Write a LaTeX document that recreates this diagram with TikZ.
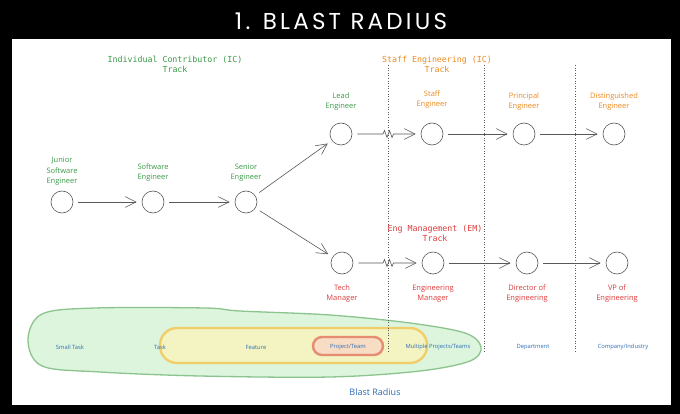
\documentclass[tikz,border=0pt]{standalone}
\usepackage{fontspec}
\usepackage{xcolor}
\usepackage{tikz}
\usetikzlibrary{arrows.meta,positioning}

\newfontfamily\handfont{Open Sans}
\newfontfamily\codefont{DejaVu Sans Mono}
\newfontfamily\titlefont[LetterSpace=14]{Poppins}

\definecolor{icgreen}{HTML}{3A9A48}
\definecolor{staffor}{HTML}{EE8A1E}
\definecolor{emred}{HTML}{DD3B3B}
\definecolor{radblue}{HTML}{2F6DB5}
\definecolor{blobgreen}{HTML}{DCF5DC}
\definecolor{blobgreenline}{HTML}{8CC48E}
\definecolor{blobyellow}{HTML}{F3F4C2}
\definecolor{blobyellowline}{HTML}{F1CE6A}
\definecolor{bloborange}{HTML}{F8DCC4}
\definecolor{bloborangeline}{HTML}{E58C72}

\begin{document}
\begin{tikzpicture}[
  x=1pt, y=-1pt,
  >={Straight Barb[length=3.8mm, width=3.8mm]},
  every node/.style={align=center},
  role/.style={draw=black!65, semithick, circle, minimum size=22pt, inner sep=0pt},
  rolelbl/.style={font=\handfont\fontsize{7.5}{10.5}\selectfont, inner sep=1pt},
  tracklbl/.style={font=\codefont\fontsize{8.3}{10}\selectfont, inner sep=0pt},
  scopelbl/.style={font=\handfont\fontsize{5.8}{7}\selectfont, text=radblue, inner sep=0pt},
  arrow/.style={->, semithick, color=black!65, shorten >=5pt, shorten <=5pt},
  divider/.style={black!65, dotted, semithick}
]

% frame
\fill[black] (0,0) rectangle (680,414);
\fill[white] (12,39) rectangle (671,405);
\node[font=\titlefont\fontsize{23}{26}\selectfont, text=white, inner sep=0pt] (title) at (341,21) {1. BLAST RADIUS};

% blast radius blobs
\draw[blobgreenline, fill=blobgreen, line width=1.3pt] plot[smooth cycle, tension=0.55] coordinates {
  (28,340) (42,314) (95,308) (205,308) (240,311) (330,315) (410,323) (465,333) (481,347)
  (470,361) (420,371) (330,377) (200,376) (100,372) (42,366)};
\draw[blobyellowline, fill=blobyellow, line width=2.4pt, rounded corners=17pt] (160,328) rectangle (427,363);
\draw[bloborangeline, fill=bloborange, line width=2.4pt, rounded corners=9pt] (313,337) rectangle (383,355);

% track dividers
\draw[divider] (388,65) -- (388,353);
\draw[divider] (484,65) -- (484,353);
\draw[divider] (575,65) -- (575,353);

% track titles
\node[tracklbl, text=icgreen] (ictrack) at (175,64) {Individual Contributor (IC)\\Track};
\node[tracklbl, text=staffor] (stafftrack) at (437,64) {Staff Engineering (IC)\\Track};
\node[tracklbl, text=emred] (emtrack) at (435,233) {Eng Management (EM)\\Track};

% roles
\node[role] (junior) at (62,202) {};
\node[role] (swe) at (153,202) {};
\node[role] (senior) at (246,202) {};
\node[role] (lead) at (341,134) {};
\node[role] (staff) at (432,134) {};
\node[role] (principal) at (524,134) {};
\node[role] (distinguished) at (614,134) {};
\node[role] (techmgr) at (342,263) {};
\node[role] (engmgr) at (433,263) {};
\node[role] (director) at (527,263) {};
\node[role] (vp) at (617,263) {};

\node[rolelbl, text=icgreen, above=4pt of junior] (juniorlbl) {Junior\\Software\\Engineer};
\node[rolelbl, text=icgreen, above=8pt of swe] (swelbl) {Software\\Engineer};
\node[rolelbl, text=icgreen, above=8pt of senior] (seniorlbl) {Senior\\Engineer};
\node[rolelbl, text=icgreen, above=11pt of lead] (leadlbl) {Lead\\Engineer};
\node[rolelbl, text=staffor, above=13pt of staff] (stafflbl) {Staff\\Engineer};
\node[rolelbl, text=staffor, above=11pt of principal] (principallbl) {Principal\\Engineer};
\node[rolelbl, text=staffor, above=11pt of distinguished] (distinguishedlbl) {Distinguished\\Engineer};
\node[rolelbl, text=emred, below=9pt of techmgr] (techmgrlbl) {Tech\\Manager};
\node[rolelbl, text=emred, below=9pt of engmgr] (engmgrlbl) {Engineering\\Manager};
\node[rolelbl, text=emred, below=9pt of director] (directorlbl) {Director of\\Engineering};
\node[rolelbl, text=emred, below=9pt of vp] (vplbl) {VP of\\Engineering};

% breaks where the track changes
\coordinate (icbreak) at (383,134);
\coordinate (embreak) at (383,263);

\draw[arrow] (junior) -- (swe);
\draw[arrow] (swe) -- (senior);
\draw[arrow] (senior) -- (lead);
\draw[arrow] (senior) -- (techmgr);
\draw[arrow] (lead) -- (icbreak) -- ++(1.5,-3.5) -- ++(2.5,7) -- ++(2.5,-7) -- ++(2.5,7) -- ++(1.5,-3.5) -- (staff);
\draw[arrow] (staff) -- (principal);
\draw[arrow] (principal) -- (distinguished);
\draw[arrow] (techmgr) -- (embreak) -- ++(1.5,-3.5) -- ++(2.5,7) -- ++(2.5,-7) -- ++(2.5,7) -- ++(1.5,-3.5) -- (engmgr);
\draw[arrow] (engmgr) -- (director);
\draw[arrow] (director) -- (vp);

% scope of impact
\node[scopelbl] (smalltask) at (70,347) {Small Task};
\node[scopelbl] (task) at (160,347) {Task};
\node[scopelbl] (feature) at (256,347) {Feature};
\node[scopelbl] (project) at (348,347) {Project/Team};
\node[scopelbl] (multi) at (438,347) {Multiple Projects/Teams};
\node[scopelbl] (dept) at (533,347) {Department};
\node[scopelbl] (company) at (623,347) {Company/Industry};
\node[font=\handfont\fontsize{9}{11}\selectfont, text=radblue] (blastradius) at (375,392) {Blast Radius};

\end{tikzpicture}
\end{document}
